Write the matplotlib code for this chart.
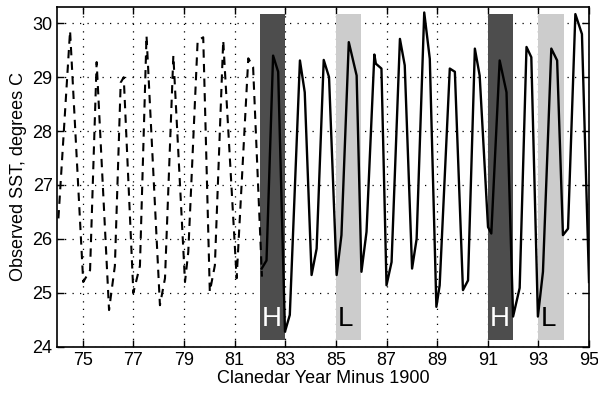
import numpy as np
import matplotlib.pyplot as plt

plt.rcParams['font.family'] = ['Liberation Sans', 'DejaVu Sans']

# dashed (earlier) record: year, SST
dash_year = [74.04, 74.50, 75.02, 75.29, 75.55, 76.04, 76.27, 76.50, 76.62,
             77.00, 77.26, 77.52, 78.05, 78.25, 78.58, 79.04, 79.17, 79.54,
             79.76, 80.02, 80.22, 80.55, 81.08, 81.54, 81.73, 82.08]
dash_sst = [26.38, 29.86, 25.20, 25.42, 29.28, 24.68, 25.50, 28.90, 29.00,
            25.00, 25.50, 29.77, 24.77, 25.27, 29.40, 25.20, 25.76, 29.68,
            29.74, 25.02, 25.51, 29.68, 25.27, 29.35, 29.19, 25.30]

# solid (later) record
solid_year = [82.07, 82.26, 82.52, 82.72, 82.99, 83.18, 83.58, 83.77, 84.04,
              84.24, 84.52, 84.73, 85.03, 85.22, 85.51, 85.82, 86.01, 86.21,
              86.52, 86.58, 86.80, 87.00, 87.20, 87.53, 87.72, 88.01, 88.19,
              88.49, 88.71, 88.97, 89.10, 89.50, 89.70, 90.02, 90.22, 90.49,
              90.68, 91.01, 91.14, 91.47, 91.74, 92.00, 92.26, 92.53, 92.72,
              92.98, 93.18, 93.51, 93.74, 93.97, 94.17, 94.46, 94.72, 95.00]
solid_sst = [25.45, 25.60, 29.40, 29.10, 24.28, 24.59, 29.31, 28.72, 25.33,
             25.82, 29.32, 29.00, 25.33, 26.07, 29.65, 29.03, 25.39, 26.13,
             29.42, 29.25, 29.16, 25.14, 25.57, 29.71, 29.22, 25.45, 26.00,
             30.20, 29.34, 24.74, 25.14, 29.16, 29.10, 25.05, 25.23, 29.53,
             29.03, 26.22, 26.10, 29.31, 28.72, 24.56, 25.09, 29.56, 29.37,
             24.56, 25.39, 29.53, 29.31, 26.07, 26.19, 30.17, 29.80, 25.20]

# shaded years: start year, label
band_start = [82, 85, 91, 93]
band_label = ['H', 'L', 'H', 'L']

fig = plt.figure(figsize=(5.98, 3.94), dpi=100)
ax = fig.add_axes([0.096, 0.12, 0.889, 0.862])
ax.set_axisbelow(True)

for x0, lab in zip(band_start, band_label):
    dark = lab == 'H'
    ax.fill_between([x0, x0 + 1], 24.12, 30.18,
                    color='0.3' if dark else '0.8', lw=0, zorder=1)
    ax.text(x0 + 0.08, 24.28, lab, color='white' if dark else 'black',
            fontsize=20, ha='left', va='bottom', zorder=4)

ax.plot(dash_year, dash_sst, color='black', ls=(0, (4, 3)), lw=1.5, zorder=3)
ax.plot(solid_year, solid_sst, color='black', lw=1.7, zorder=3)

ax.set_xlim(74, 95)
ax.set_ylim(24, 30.3)
ax.set_xticks(np.arange(75, 96, 2))
ax.set_yticks(np.arange(24, 31, 1))
ax.grid(True, color='black', ls=(0, (1, 5)), lw=0.9)
ax.tick_params(direction='in', top=True, right=True, length=5,
               labelsize=13, width=1)
for s in ax.spines.values():
    s.set_linewidth(1.2)

ax.set_xlabel('Clanedar Year Minus 1900', fontsize=13, labelpad=1)
ax.set_ylabel('Observed SST, degrees C', fontsize=13, labelpad=4)

fig.savefig('out.png', dpi=100)
